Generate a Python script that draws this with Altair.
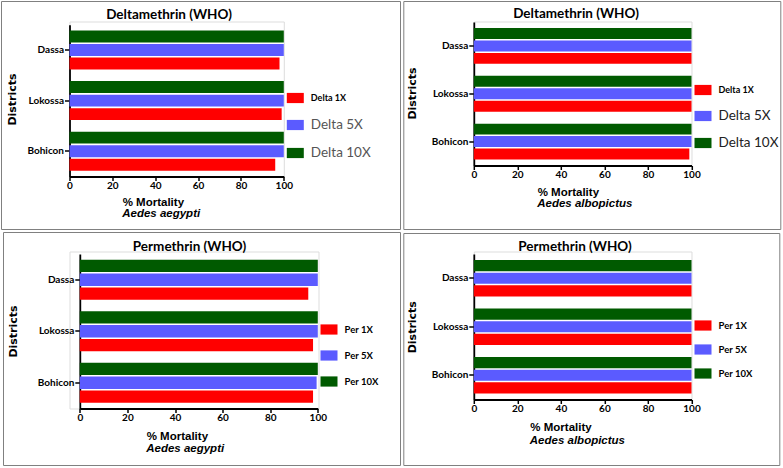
import altair as alt
import pandas as pd

districts = ["Dassa", "Lokossa", "Bohicon"]

delta_labels = ["Delta 1X", "Delta 5X", "Delta 10X"]
per_labels = ["Per 1X", "Per 5X", "Per 10X"]
colors = ["#FF0000", "#5B5BFF", "#005A00"]

# % mortality, order: Dassa, Lokossa, Bohicon
aeg_delta_1x = [98, 99, 96]
aeg_delta_5x = [100, 100, 100]
aeg_delta_10x = [100, 100, 100]

alb_delta_1x = [100, 100, 99]
alb_delta_5x = [100, 100, 100]
alb_delta_10x = [100, 100, 100]

aeg_per_1x = [96, 98, 98]
aeg_per_5x = [100, 100, 99.5]
aeg_per_10x = [100, 100, 100]

alb_per_1x = [100, 100, 100]
alb_per_5x = [100, 100, 100]
alb_per_10x = [100, 100, 100]

x_ticks = [0, 20, 40, 60, 80, 100]

SWATCH = "M-1,-0.6L1,-0.6L1,0.6L-1,0.6Z"


def panel(title, labels, series, species, width, height, xr, yr, pad_inner,
          title_x, title_y, y_axis_offset, ytx, yty, xtx, xty, sp_x, sp_y,
          leg_x, leg_y, row_pad, border, lab_size, lab_weight, lab_color):
    rows = []
    for lab, vals in zip(labels, series):
        for d, v in zip(districts, vals):
            rows.append({"district": d, "series": lab, "value": v})
    df = pd.DataFrame(rows)

    bars = alt.Chart(df).mark_bar().encode(
        x=alt.X("value:Q",
                scale=alt.Scale(domain=[0, 100], range=xr, nice=False),
                axis=alt.Axis(values=x_ticks, grid=False, title="% Mortality",
                              titleFont="Liberation Sans", titleFontSize=11.5,
                              titleFontWeight="bold", titleColor="black",
                              titleAlign="left", titleBaseline="middle",
                              titleX=xtx, titleY=xty,
                              labelFont="Lato", labelFontSize=10, labelFontWeight="bold",
                              labelColor="black", labelPadding=0, labelFlush=False,
                              labelOverlap=False,
                              tickSize=4, tickWidth=1.5, tickColor="black",
                              domainColor="black", domainWidth=1.8)),
        y=alt.Y("district:N", sort=districts,
                scale=alt.Scale(range=yr, paddingInner=pad_inner, paddingOuter=pad_inner / 2),
                axis=alt.Axis(title="Districts", titleFont="DejaVu Sans", titleFontSize=11,
                              titleFontWeight="bold", titleColor="black", titleAngle=270,
                              titleAlign="center", titleBaseline="middle",
                              titleX=ytx, titleY=yty, offset=y_axis_offset,
                              labelFont="Lato", labelFontSize=10, labelFontWeight="bold",
                              labelColor="black", labelPadding=1,
                              tickSize=5, tickWidth=1.5, tickColor="black",
                              domainColor="black", domainWidth=1.8)),
        yOffset=alt.YOffset("series:N", sort=labels[::-1],
                            scale=alt.Scale(paddingInner=0.12, paddingOuter=0)),
        color=alt.Color("series:N",
                        scale=alt.Scale(domain=labels, range=colors),
                        legend=alt.Legend(title=None, orient="none", legendX=leg_x, legendY=leg_y,
                                          symbolType=SWATCH, symbolSize=289,
                                          symbolStrokeWidth=0, symbolOpacity=1,
                                          labelOffset=7, rowPadding=row_pad, padding=0,
                                          labelFont="Lato",
                                          labelFontSize=lab_size, labelFontWeight=lab_weight,
                                          labelColor=lab_color)),
    )

    frame = alt.Chart(pd.DataFrame({"k": [0]})).mark_rect(
        fill="white", fillOpacity=0, stroke="#808080", strokeWidth=1
    ).encode(x=alt.value(border[0]), x2=alt.value(border[1]),
             y=alt.value(border[2]), y2=alt.value(border[3]))

    head = alt.Chart(pd.DataFrame({"title": [title]})).mark_text(
        align="center", baseline="middle", font="Lato", fontSize=13.5,
        fontWeight="bold", color="black"
    ).encode(text="title:N", x=alt.value(title_x), y=alt.value(title_y))

    sp = alt.Chart(pd.DataFrame({"species": [species]})).mark_text(
        align="left", baseline="middle", font="Liberation Sans", fontSize=11.5,
        fontStyle="italic", fontWeight="bold", color="black"
    ).encode(text="species:N", x=alt.value(sp_x), y=alt.value(sp_y))

    return alt.layer(frame, bars, head, sp).properties(width=width, height=height)


p1 = panel("Deltamethrin (WHO)", delta_labels, [aeg_delta_1x, aeg_delta_5x, aeg_delta_10x],
           "Aedes aegypti", 214.3, 155, [0, 214.3], [3.2, 155], 0.23,
           99.5, -7, 0, -57, 77.5, 52.7, 25.7, 52.7, 192.3,
           217.3, 68, 13, [-68, 331, -20, 208],
           {"expr": "datum.label == 'Delta 1X' ? 9 : 13.5"},
           {"expr": "datum.label == 'Delta 1X' ? 'bold' : 'normal'"},
           {"expr": "datum.label == 'Delta 1X' ? '#000000' : '#555555'"})

p2 = panel("Deltamethrin (WHO)", delta_labels, [alb_delta_1x, alb_delta_5x, alb_delta_10x],
           "Aedes albopictus", 217.7, 144, [0, 217.7], [0.5, 144], 0.25,
           102.2, -7.7, 0, -61.6, 71.5, 63.4, 26.7, 63.4, 182.3,
           220.7, 60, 12, [-70, 307, -20, 208],
           {"expr": "datum.label == 'Delta 1X' ? 9 : 13.5"},
           {"expr": "datum.label == 'Delta 1X' ? 'bold' : 'normal'"},
           {"expr": "datum.label == 'Delta 1X' ? '#000000' : '#222222'"})

p3 = panel("Permethrin (WHO)", per_labels, [aeg_per_1x, aeg_per_5x, aeg_per_10x],
           "Aedes aegypti", 249, 157, [10.3, 248.3], [2.5, 157], 0.22,
           120, -5, -10.3, -66, 79.5, 76.7, 28, 76.7, 197.3,
           251, 69.5, 12, [-66, 331, -19, 214],
           9.5, "bold", "#000000")

p4 = panel("Permethrin (WHO)", per_labels, [alb_per_1x, alb_per_5x, alb_per_10x],
           "Aedes albopictus", 217.7, 148, [0, 217.7], [2.5, 148], 0.25,
           101.2, -5, 0, -61.6, 75.2, 56, 28.3, 56, 189.7,
           220.7, 65.5, 10, [-70, 306, -18, 214],
           9.5, "bold", "#000000")

chart = alt.concat(p1, p2, p3, p4, columns=2, spacing={"row": 75, "column": 155.3},
                   bounds="flush", align="each").resolve_scale(
    color="independent", yOffset="independent", x="independent", y="independent"
).properties(
    padding={"left": 0.5, "top": 0.5, "right": 0, "bottom": 0}
).configure_view(strokeWidth=0).configure(background="white")

chart.save("out.html", embed_options={"renderer": "svg", "actions": False})
